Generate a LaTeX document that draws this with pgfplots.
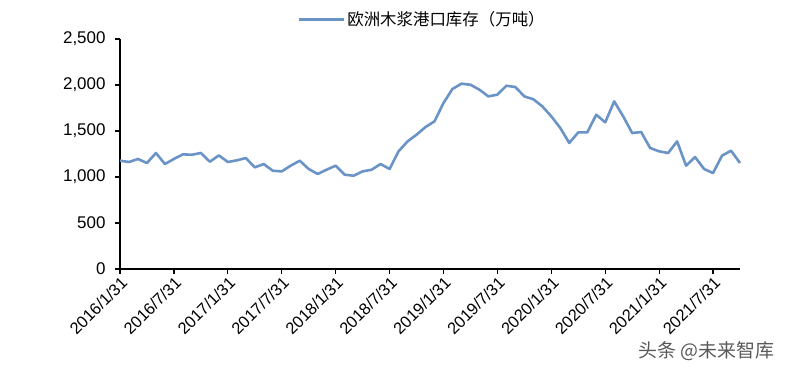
\documentclass[border=0pt]{standalone}
\usepackage{fontspec}
\setmainfont{Liberation Sans}
\newfontfamily\cjk{Noto Sans CJK SC}
\usepackage{pgfplots}
\pgfplotsset{compat=1.18}
\definecolor{linec}{RGB}{106,147,198}
\pgfplotstableread{
i v
0 1177
1 1163
2 1196
3 1152
4 1261
5 1141
6 1196
7 1246
8 1242
9 1261
10 1166
11 1235
12 1163
13 1181
14 1206
15 1105
16 1141
17 1068
18 1061
19 1123
20 1177
21 1087
22 1033
23 1080
24 1123
25 1025
26 1014
27 1061
28 1079
29 1141
30 1087
31 1279
32 1387
33 1460
34 1543
35 1605
36 1804
37 1957
38 2014
39 2003
40 1949
41 1876
42 1895
43 1992
44 1978
45 1876
46 1845
47 1768
48 1659
49 1533
50 1370
51 1485
52 1485
53 1677
54 1594
55 1822
56 1659
57 1478
58 1489
59 1315
60 1279
61 1261
62 1387
63 1123
64 1217
65 1087
66 1043
67 1232
68 1286
69 1152
}\datatable
\begin{document}
\begin{tikzpicture}[x=1bp,y=1bp]
\begin{axis}[name=ax, at={(0,0)}, anchor=south west,
  scale only axis, width=620bp, height=230bp,
  xmin=0, xmax=69, ymin=0, ymax=2500,
  axis x line=bottom, axis y line=left,
  axis line style={-, line width=1.6bp, black},
  xtick={0,6,...,66},
  xticklabels={2016/1/31,2016/7/31,2017/1/31,2017/7/31,2018/1/31,2018/7/31,2019/1/31,2019/7/31,2020/1/31,2020/7/31,2021/1/31,2021/7/31},
  ytick={0,500,...,2500},
  tick style={black, line width=1.2bp}, major tick length=5bp, tick align=outside,
  x tick label style={rotate=45, anchor=north east, font=\fontsize{16.5}{19}\selectfont, inner sep=1bp},
  y tick label style={font=\fontsize{17}{20}\selectfont, xshift=-6bp},
  /pgf/number format/assume math mode=true,
  scaled y ticks=false,
  legend style={at={(0.5,1)}, anchor=south, yshift=8bp, xshift=-8bp, draw=none, fill=none,
    font=\cjk\fontsize{16.5}{19}\selectfont, inner xsep=0pt},
  legend image code/.code={\draw[#1, line width=3bp] (0bp,0bp) -- (45bp,0bp);},
  clip=false,
]
\addplot[linec, line width=2.6bp, line join=round] table[x=i, y=v] {\datatable};
\addlegendentry{欧洲木浆港口库存（万吨）}
\end{axis}
\node[anchor=west, text=black!65, font=\cjk\fontsize{19}{22}\selectfont] at (515bp,-82bp) {头条 @未来智库};
\pgfresetboundingbox
\path[use as bounding box] (-120bp,-106bp) rectangle (680bp,269bp);
\end{tikzpicture}
\end{document}
